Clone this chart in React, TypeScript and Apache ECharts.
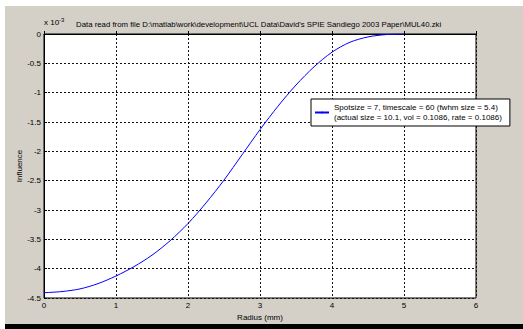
import React, { useEffect, useRef } from "react";
import * as echarts from "echarts";

const radius = [0, 0.25, 0.5, 0.75, 1, 1.25, 1.5, 1.75, 2, 2.25, 2.5, 2.75, 3, 3.25, 3.5, 3.75, 4, 4.25, 4.5, 4.75, 5];
const influence = [-4.41, -4.39, -4.345, -4.255, -4.125, -3.965, -3.77, -3.525, -3.23, -2.88, -2.49, -2.06, -1.63, -1.23, -0.87, -0.56, -0.31, -0.14, -0.05, -0.01, 0];
const xTicks = [0, 1, 2, 3, 4, 5, 6];
const titleText = "Data read from file D:\\matlab\\work\\development\\UCL Data\\David's SPIE Sandiego 2003 Paper\\MUL40.zki";
const legendName = "Spotsize = 7, timescale = 60 (fwhm size = 5.4)\n(actual size = 10.1, vol = 0.1086, rate = 0.1086)";

const FONT = "Liberation Sans, Arial, sans-serif";

export default function App() {
  const ref = useRef<HTMLDivElement>(null);
  useEffect(() => {
    document.body.style.margin = "0";
    const chart = echarts.init(ref.current!, null, { renderer: "svg" });
    chart.setOption({
      animation: false,
      backgroundColor: "#ffffff",
      textStyle: { fontFamily: FONT },
      graphic: {
        elements: [
          { type: "rect", z: -100, silent: true, shape: { x: 5, y: 6, width: 518, height: 318 }, style: { fill: "#d4d0c8" } },
          { type: "rect", z: -100, silent: true, shape: { x: 5, y: 324, width: 518, height: 5 }, style: { fill: "#000000" } },
          {
            type: "text",
            left: 44,
            top: 17,
            style: {
              text: "x 10{sup|-3}",
              fontFamily: FONT,
              fontSize: 8,
              fill: "#000",
              rich: { sup: { fontSize: 6, verticalAlign: "top", padding: [0, 0, 4, 0], fontFamily: FONT } },
            },
          },
          {
            type: "text",
            left: 76,
            top: 20,
            style: { text: titleText, fontFamily: FONT, fontSize: 7.8, fill: "#000" },
          },
        ],
      },
      grid: {
        left: 44,
        top: 34,
        width: 432,
        height: 264,
        show: true,
        backgroundColor: "#ffffff",
        borderColor: "#000000",
        borderWidth: 1,
        containLabel: false,
      },
      legend: {
        show: true,
        left: 311,
        top: 99,
        orient: "vertical",
        backgroundColor: "#ffffff",
        borderColor: "#000000",
        borderWidth: 1,
        borderRadius: 0,
        padding: [3, 8, 3, 3],
        itemWidth: 14,
        itemHeight: 2,
        itemGap: 0,
        textStyle: { fontFamily: FONT, fontSize: 8, color: "#000", lineHeight: 10.5 },
      },
      xAxis: {
        type: "value",
        min: 0,
        max: 6,
        interval: 1,
        name: "Radius (mm)",
        nameLocation: "middle",
        nameGap: 15,
        nameMoveOverlap: false,
        nameTextStyle: { fontFamily: FONT, fontSize: 8, color: "#000" },
        axisLine: { show: true, lineStyle: { color: "#000", width: 1 } },
        axisTick: { show: true, inside: true, length: 3, lineStyle: { color: "#000" } },
        axisLabel: {
          fontFamily: FONT,
          fontSize: 8,
          color: "#000",
          margin: 3,
          formatter: (v: number) => (xTicks.includes(v) ? String(v) : ""),
        },
        splitLine: { show: true, lineStyle: { color: "#111", type: [2, 2], width: 1 } },
      },
      yAxis: {
        type: "value",
        min: -4.5,
        max: 0,
        interval: 0.5,
        name: "Influence",
        nameLocation: "middle",
        nameGap: 21,
        nameMoveOverlap: false,
        nameRotate: 90,
        nameTextStyle: { fontFamily: FONT, fontSize: 8, color: "#000" },
        axisLine: { show: true, lineStyle: { color: "#000", width: 1 } },
        axisTick: { show: true, inside: true, length: 3, lineStyle: { color: "#000" } },
        axisLabel: { fontFamily: FONT, fontSize: 8, color: "#000", margin: 3 },
        splitLine: { show: true, lineStyle: { color: "#111", type: [2, 2], width: 1 } },
      },
      series: [
        {
          name: legendName,
          type: "line",
          data: radius.map((r, i) => [r, influence[i]]),
          symbol: "none",
          smooth: 0.3,
          lineStyle: { color: "#0000ff", width: 1 },
          itemStyle: { color: "#0000ff" },
        },
      ],
    });
    return () => chart.dispose();
  }, []);
  return <div ref={ref} style={{ width: 523, height: 329 }} />;
}
